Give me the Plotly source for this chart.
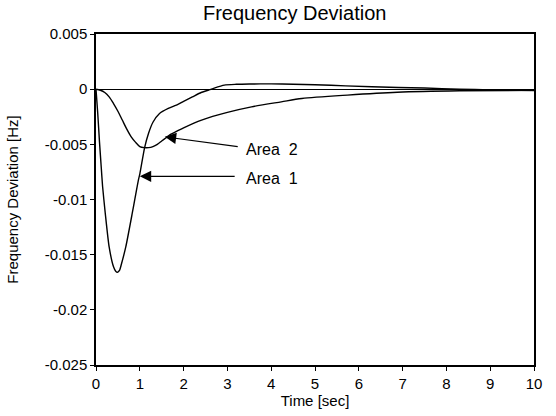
import plotly.graph_objects as go

# Area 1 response (deep dip)
t_area1 = [0, 0.04, 0.08, 0.12, 0.15, 0.21, 0.30, 0.40, 0.45, 0.49, 0.54, 0.57, 0.68, 0.83,
           0.89, 0.97, 1.0, 1.11, 1.2, 1.3, 1.45, 1.65, 1.8, 2.0, 2.2, 2.4, 2.56, 2.7, 2.93,
           3.2, 3.5, 4.0, 4.5, 5.0, 5.7, 6.9, 7.5, 8.3, 9.0, 10.0]
f_area1 = [0, -0.0022, -0.0048, -0.0071, -0.0088, -0.0112, -0.0143, -0.0161, -0.0165, -0.0166,
           -0.0164, -0.0160, -0.0143, -0.0112, -0.0099, -0.0082, -0.0077, -0.0053, -0.0040,
           -0.0030, -0.0022, -0.00175, -0.0015, -0.0011, -0.0007, -0.0003, -0.0001, 0.0001,
           0.00037, 0.00044, 0.00047, 0.00048, 0.00045, 0.0004, 0.0003, 0.00015, 0.0001, 0.0,
           -0.00006, -0.00012]

# Area 2 response (shallow dip)
t_area2 = [0, 0.1, 0.2, 0.3, 0.4, 0.5, 0.6, 0.7, 0.8, 0.9, 1.0, 1.1, 1.2, 1.3, 1.4, 1.5,
           1.6, 1.7, 1.85, 2.0, 2.41, 3.0, 3.55, 4.23, 4.7, 5.74, 6.88, 8.3, 10.0]
f_area2 = [0, -0.0001, -0.0003, -0.0007, -0.0013, -0.0020, -0.0028, -0.0036, -0.0043,
           -0.0048, -0.0052, -0.0053, -0.0053, -0.0052, -0.0050, -0.0047, -0.0044, -0.0041,
           -0.0038, -0.0035, -0.0028, -0.0021, -0.0016, -0.00115, -0.00085, -0.00054,
           -0.00028, -0.00015, -0.0001]

x_ticks = [0, 1, 2, 3, 4, 5, 6, 7, 8, 9, 10]
x_labels = ["0", "1", "2", "3", "4", "5", "6", "7", "8", "9", "10"]
y_ticks = [0.005, 0, -0.005, -0.01, -0.015, -0.02, -0.025]
y_labels = ["0.005", "0", "-0.005", "-0.01", "-0.015", "-0.02", "-0.025"]

FONT = "Liberation Sans, Arial, sans-serif"

fig = go.Figure()
fig.add_trace(go.Scatter(x=t_area1, y=f_area1, mode="lines",
                         line=dict(color="black", width=1.4, shape="spline", smoothing=0.6), name="Area 1"))
fig.add_trace(go.Scatter(x=t_area2, y=f_area2, mode="lines",
                         line=dict(color="black", width=1.4, shape="spline", smoothing=0.8), name="Area 2"))

# arrows + labels
fig.add_annotation(x=1.57, y=-0.00432, ax=3.27, ay=-0.00522, xref="x", yref="y", axref="x", ayref="y",
                   text="", showarrow=True, arrowhead=2, arrowsize=1.9, arrowwidth=1.2, arrowcolor="black")
fig.add_annotation(x=1.0, y=-0.0079, ax=3.2, ay=-0.0079, xref="x", yref="y", axref="x", ayref="y",
                   text="", showarrow=True, arrowhead=2, arrowsize=1.9, arrowwidth=1.2, arrowcolor="black")
fig.add_annotation(x=3.39, y=-0.0055, xref="x", yref="y", text="Area  2", showarrow=False,
                   xanchor="left", font=dict(family=FONT, size=16, color="black"))
fig.add_annotation(x=3.39, y=-0.0081, xref="x", yref="y", text="Area  1", showarrow=False,
                   xanchor="left", font=dict(family=FONT, size=16, color="black"))

fig.update_layout(
    width=556, height=416,
    margin=dict(l=94, r=22, t=34, b=51),
    paper_bgcolor="white", plot_bgcolor="white",
    showlegend=False,
    font=dict(family=FONT, size=15, color="black"),
    title=dict(text="Frequency Deviation", x=0.53, xanchor="center", y=0.968, yanchor="middle",
               font=dict(family=FONT, size=20, color="black")),
    xaxis=dict(range=[0, 10], tickvals=x_ticks, ticktext=x_labels, showgrid=False, zeroline=False,
               showline=True, linecolor="black", linewidth=1.5, mirror=True,
               ticks="outside", ticklen=4, tickcolor="black",
               title=dict(text="Time [sec]", standoff=2, font=dict(size=15))),
    yaxis=dict(range=[-0.025, 0.005], tickvals=y_ticks, ticktext=y_labels, showgrid=False,
               zeroline=True, zerolinecolor="black", zerolinewidth=1,
               showline=True, linecolor="black", linewidth=1.5, mirror=True,
               ticks="outside", ticklen=4, tickcolor="black",
               title=dict(text="Frequency Deviation [Hz]", standoff=22, font=dict(size=15))),
)

fig.write_html("out.html")
